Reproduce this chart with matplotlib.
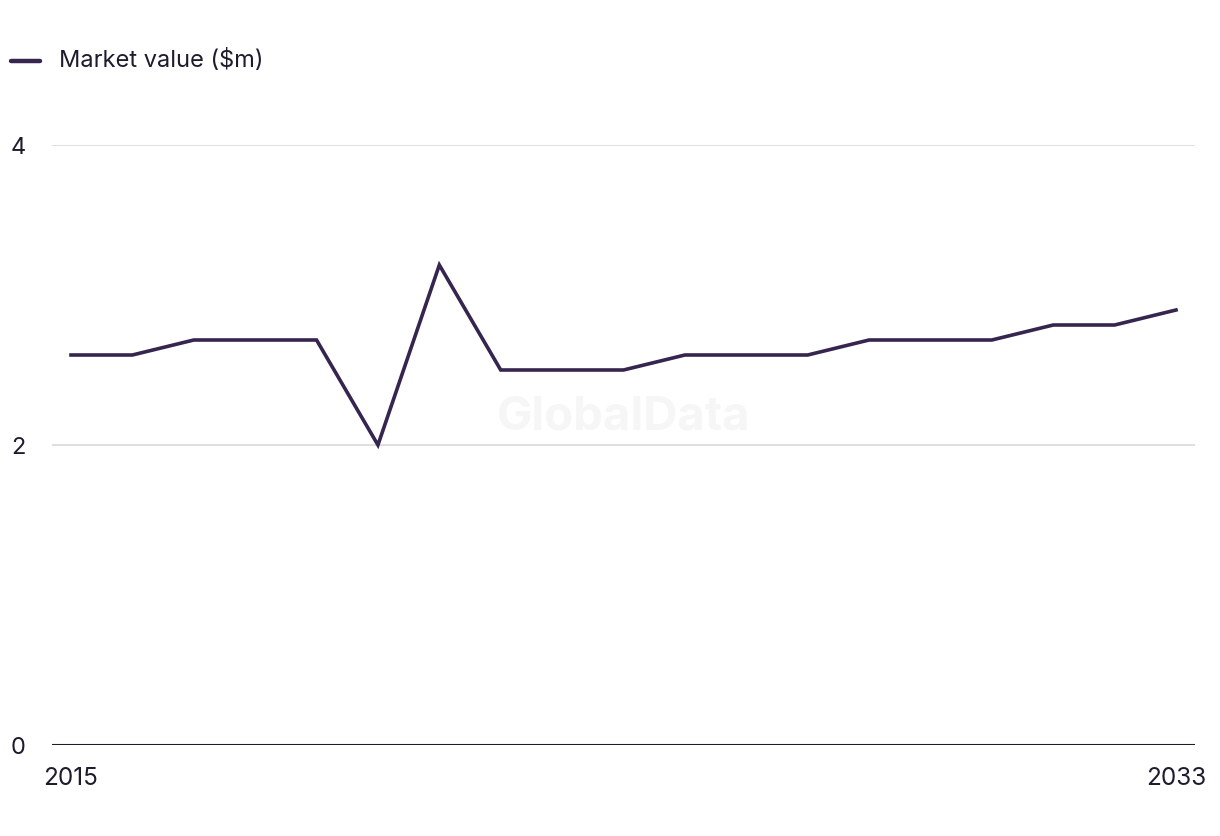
import matplotlib
matplotlib.use("Agg")
import matplotlib.pyplot as plt

years = list(range(2015, 2034))
market_value = [2.6, 2.6, 2.7, 2.7, 2.7, 2.0, 3.2, 2.5, 2.5, 2.5,
                2.6, 2.6, 2.6, 2.7, 2.7, 2.7, 2.8, 2.8, 2.9]
y_ticks = [0, 2, 4]
x_tick_labels = ["2015", "2033"]
series_name = "Market value ($m)"

LINE = "#35254f"
TEXT = "#1c1c2e"
GRID = "#d9d9d9"

plt.rcParams['font.family'] = ['Inter', 'DejaVu Sans']

W, H = 1220, 836
fig = plt.figure(figsize=(W / 100, H / 100), dpi=100)
ax = fig.add_axes([52 / W, 1 - 745 / H, (1195 - 52) / W, (745 - 145) / H])

ax.plot(years, market_value, color=LINE, linewidth=2.6, solid_joinstyle='miter', zorder=3)

ax.set_xlim(2015 - 19 / 61.39, 2033 + 19 / 61.39)
ax.set_ylim(0, 4)

for v in y_ticks[1:]:
    ax.axhline(v, color=GRID, linewidth=1.2, zorder=1)
ax.axhline(0, color=TEXT, linewidth=1.5, zorder=2)

for s in ax.spines.values():
    s.set_visible(False)

ax.set_yticks(y_ticks)
ax.set_yticklabels([str(v) for v in y_ticks])
ax.tick_params(axis='y', length=0, pad=19, labelsize=17, labelcolor=TEXT)
ax.set_xticks([years[0], years[-1]])
ax.set_xticklabels(x_tick_labels)
ax.tick_params(axis='x', length=0, pad=16, labelsize=17.5, labelcolor=TEXT)

ax.text(0.5, 0.545, "GlobalData", transform=ax.transAxes, ha='center', va='center',
        fontsize=34, fontweight='bold', color='#f6f6f6', zorder=0)

fig.lines.append(plt.Line2D([11 / W, 40 / W], [1 - 61 / H, 1 - 61 / H],
                            transform=fig.transFigure, color=LINE, linewidth=3.2,
                            solid_capstyle='round'))
fig.text(59 / W, 1 - 61 / H, series_name, fontsize=17, color=TEXT, va='center', ha='left')

fig.savefig("out.png", dpi=100, facecolor='white')
